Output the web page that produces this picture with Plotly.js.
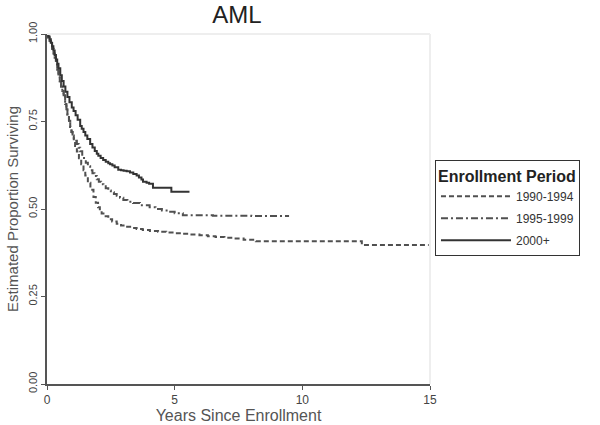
<!DOCTYPE html>
<html>
<head>
<meta charset="utf-8">
<script src="https://cdn.plot.ly/plotly-3.0.1.min.js"></script>
<style>html,body{margin:0;padding:0;background:#fff;}#chart{width:600px;height:425px;}</style>
</head>
<body>
<div id="chart"></div>
<script>
// Enrollment 2000+
const t2000 = [0,0.05,0.1,0.15,0.2,0.25,0.3,0.35,0.4,0.45,0.52,0.58,0.65,0.72,0.8,0.88,0.97,1.04,1.12,1.2,1.3,1.36,1.43,1.5,1.58,1.69,1.78,1.87,1.95,2.01,2.1,2.2,2.3,2.4,2.47,2.56,2.65,2.79,2.9,3.0,3.12,3.25,3.38,3.51,3.6,3.7,3.76,3.9,4.0,4.15,4.87,5.58];
const s2000 = [1,0.993,0.985,0.975,0.965,0.953,0.94,0.927,0.915,0.902,0.882,0.866,0.85,0.835,0.82,0.805,0.79,0.78,0.768,0.755,0.737,0.729,0.72,0.71,0.70,0.686,0.676,0.666,0.658,0.652,0.646,0.640,0.635,0.631,0.628,0.624,0.619,0.612,0.611,0.609,0.608,0.604,0.600,0.596,0.590,0.584,0.578,0.575,0.572,0.561,0.549,0.549];
// Enrollment 1995-1999
const t1995 = [0,0.05,0.1,0.15,0.2,0.26,0.3,0.35,0.4,0.45,0.5,0.55,0.6,0.65,0.71,0.76,0.8,0.86,0.91,0.96,1.0,1.05,1.1,1.17,1.24,1.3,1.38,1.45,1.52,1.6,1.69,1.78,1.86,1.95,2.03,2.12,2.21,2.3,2.4,2.5,2.62,2.73,2.86,2.99,3.15,3.37,3.64,4.02,4.25,4.5,4.75,5.0,5.32,6.5,8.0,9.48];
const s1995 = [1,0.99,0.98,0.969,0.958,0.944,0.932,0.915,0.898,0.88,0.865,0.85,0.837,0.825,0.80,0.785,0.77,0.752,0.734,0.72,0.71,0.702,0.695,0.686,0.675,0.665,0.652,0.641,0.632,0.622,0.611,0.602,0.594,0.585,0.578,0.571,0.565,0.559,0.553,0.548,0.543,0.538,0.532,0.526,0.521,0.517,0.511,0.505,0.5,0.496,0.492,0.488,0.482,0.481,0.48,0.48];
// Enrollment 1990-1994
const t1990 = [0,0.05,0.1,0.15,0.2,0.26,0.3,0.35,0.4,0.45,0.5,0.55,0.6,0.65,0.71,0.76,0.8,0.86,0.91,0.96,1.0,1.05,1.1,1.17,1.25,1.34,1.43,1.5,1.6,1.7,1.82,1.91,2.0,2.07,2.14,2.25,2.4,2.55,2.73,2.9,3.1,3.3,3.51,3.75,4.03,4.35,4.67,5.0,5.3,5.6,5.97,6.3,6.6,6.95,7.27,7.7,8.18,11.43,12.33,14.95];
const s1990 = [1,0.99,0.98,0.969,0.958,0.944,0.932,0.915,0.898,0.88,0.865,0.85,0.837,0.825,0.80,0.785,0.77,0.752,0.734,0.72,0.71,0.696,0.68,0.664,0.645,0.628,0.611,0.596,0.575,0.555,0.534,0.518,0.505,0.495,0.487,0.479,0.471,0.464,0.458,0.453,0.449,0.446,0.443,0.44,0.437,0.435,0.433,0.431,0.429,0.427,0.425,0.422,0.42,0.418,0.416,0.412,0.408,0.408,0.397,0.397];

const xTicks = [0,5,10,15];
const yTicks = [0,0.25,0.5,0.75,1];
const yTickText = ['0.00','0.25','0.50','0.75','1.00'];

const traces = [
  {x:t1990, y:s1990, name:'1990-1994', legendgroup:'a', mode:'lines', line:{shape:'hv', color:'#505050', width:2, dash:'5px,3px'}},
  {x:t1995, y:s1995, name:'1995-1999', legendgroup:'b', mode:'lines', line:{shape:'hv', color:'#505050', width:2, dash:'7px,3px,2px,3px'}},
  {x:t2000, y:s2000, name:'2000+', legendgroup:'c', mode:'lines', line:{shape:'hv', color:'#333', width:2}}
];

const layout = {
  width:600, height:425,
  margin:{l:47, r:170, t:34, b:41},
  paper_bgcolor:'#fff', plot_bgcolor:'#fff',
  font:{family:'Liberation Sans, Arial, sans-serif', color:'#444', size:12},
  title:{text:'AML', x:0.395, xanchor:'center', y:0.965, yanchor:'middle', font:{size:24, color:'#222'}},
  showlegend:true,
  legend:{
    title:{text:'<b>Enrollment Period</b>', font:{size:16, color:'#222'}},
    x:1.013, xanchor:'left', y:0.64, yanchor:'top',
    bordercolor:'#333', borderwidth:1, bgcolor:'#fff',
    font:{size:12, color:'#333'}, itemwidth:70, tracegroupgap:3
  },
  xaxis:{
    range:[0,15], tickvals:xTicks, ticktext:xTicks.map(String),
    showgrid:false, zeroline:false, showline:true, linecolor:'#555', linewidth:2,
    ticks:'outside', ticklen:4, tickcolor:'#555', tickwidth:1,
    tickfont:{size:12, color:'#444'},
    title:{text:'Years Since Enrollment', font:{size:16, color:'#555'}, standoff:0}
  },
  yaxis:{
    range:[0,1], tickvals:yTicks, ticktext:yTickText, tickangle:-90,
    showgrid:false, zeroline:false, showline:true, linecolor:'#555', linewidth:2,
    ticks:'outside', ticklen:4, tickcolor:'#555', tickwidth:1,
    tickfont:{size:11, color:'#444'},
    title:{text:'Estimated Proportion Surviving', font:{size:15, color:'#555'}, standoff:4}
  },
  shapes:[
    {type:'line', xref:'paper', yref:'paper', x0:0, x1:1, y0:1, y1:1, line:{color:'#eeeeee', width:2}},
    {type:'line', xref:'paper', yref:'paper', x0:1, x1:1, y0:0, y1:1, line:{color:'#eeeeee', width:2}}
  ]
};

Plotly.newPlot('chart', traces, layout, {displayModeBar:false, staticPlot:true});
</script>
</body>
</html>
